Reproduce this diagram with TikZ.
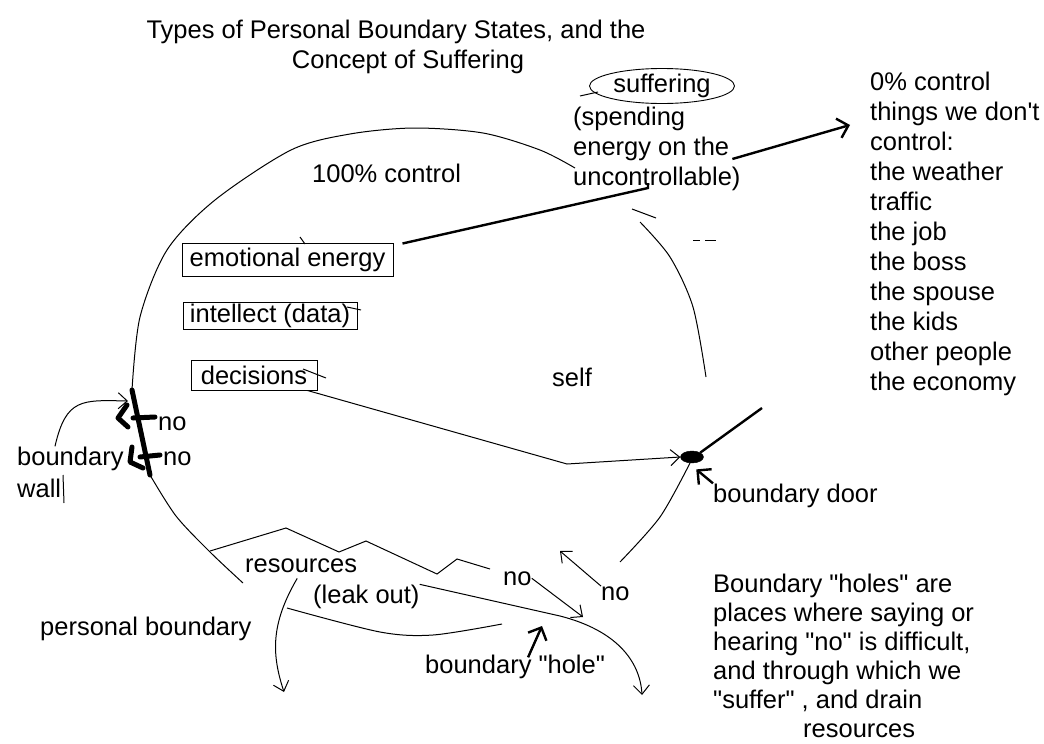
\documentclass[tikz,border=0pt]{standalone}
\usepackage{fontspec}
\newfontfamily\lbfont{Liberation Sans}
\usepackage{tikz}
\usetikzlibrary{shapes,arrows.meta,positioning,calc,backgrounds}
\tikzstyle{lbl}=[
  font=\lbfont\fontsize{25.5}{30}\selectfont, inner sep=0pt, anchor=base west
]
\tikzstyle{box}=[
  draw, line width=1, inner sep=0pt, font=\lbfont\fontsize{25.5}{30}\selectfont
]
\tikzstyle{oval}=[
  draw, ellipse, line width=0.9, inner sep=0pt, minimum width=145, minimum height=35,
  font=\lbfont\fontsize{25.5}{30}\selectfont
]
\tikzstyle{knob}=[
  draw, ellipse, fill=black, inner sep=0pt, minimum width=23, minimum height=12
]
\tikzstyle{rim}=[
  line width=1
]
\tikzstyle{heavy}=[
  line width=2.4
]
\tikzstyle{wallpen}=[
  line width=5, line cap=round, line join=round
]
\tikzset{
  tip/.style={rim, -{Straight Barb[length=9pt,width=16pt]}},
  bigtip/.style={heavy, -{Straight Barb[length=10pt,width=20pt]}},
}

\begin{document}
\begin{tikzpicture}[x=1pt,y=-1pt]
  \useasboundingbox (0,0) rectangle (1044,744);
  % titles
  \node (title) at (396,38) [lbl, anchor=base] {Types of Personal Boundary States, and the};
  \node (subtitle) at (408,68) [lbl, anchor=base] {Concept of Suffering};

  % inside the self
  \node (ctrl) at (312,182) [lbl] {100\% control};
  \node (self) at (552,386) [lbl] {self};
  \node (emo) at (287.5,259.5) [box, minimum width=211, minimum height=33] {emotional energy};
  \node (intel) at (270,315.5) [box, minimum width=174, minimum height=27] {intellect (data)};
  \node (dec) at (254,375) [box, minimum width=126, minimum height=30] {decisions};

  % suffering
  \node (suff) at (662,86) [oval] {suffering};
  \node (spend1) at (573,125) [lbl] {(spending};
  \node (spend2) at (573,155) [lbl] {energy on the};
  \node (spend3) at (573,185) [lbl] {uncontrollable)};

  % 0% control list
  \foreach \t [count=\i] in {0\% control, things we don't, control:, the weather, traffic,
      the job, the boss, the spouse, the kids, other people, the economy}
    \node (zero\i) at (870,60+30*\i) [lbl] {\t};

  % door
  \node (door) at (692,457) [knob] {};
  \node (doorlbl) at (713,502) [lbl] {boundary door};

  % wall
  \node (nowall1) at (158,430) [lbl] {no};
  \node (nowall2) at (163,465) [lbl] {no};
  \node (wall1) at (17,465) [lbl] {boundary};
  \node (wall2) at (17,497) [lbl] {wall};

  % bottom
  \node (res) at (245,572) [lbl] {resources};
  \node (leak) at (313,603) [lbl] {(leak out)};
  \node (nohole) at (503,585) [lbl] {no};
  \node (noback) at (601,600) [lbl] {no};
  \node (pers) at (40,635) [lbl] {personal boundary};
  \node (hole) at (425,673) [lbl] {boundary "hole"};

  \foreach \t [count=\i] in {Boundary "holes" are, places where saying or,
      {hearing "no" is difficult,}, and through which we, {"suffer" , and drain}}
    \node (holes\i) at (713,563+29*\i) [lbl] {\t};
  \node (holes6) at (803,737) [lbl] {resources};

  % free ends
  \coordinate (listtip) at (850,125);
  \coordinate (emoend) at (648,188);
  \coordinate (doorend) at (762,408);
  \coordinate (holetip) at (542,626);
  \coordinate (walltip) at (128,401);
  \coordinate (leakpt) at (583,617);
  \coordinate (backtip) at (560,551);

  \begin{scope}[on background layer]
    % the personal boundary
    \draw [rim] plot [smooth] coordinates {(132,390) (140,317) (167,250) (215,200) (291,150)
      (350,134) (414,128) (483,133) (540,150) (575,168)};
    \draw [rim] plot [smooth] coordinates {(640,222) (670,257) (693,307) (706,377)};
    \draw [rim] plot [smooth] coordinates {(690,463) (660,517) (620,562)};
    \draw [rim] plot [smooth] coordinates {(287,608) (380,632) (433,635) (502,624)};
    \draw [rim] plot [smooth] coordinates {(150,475) (176,516) (210,552) (243,583)};
    \draw [rim] (210,551) -- (286,528) -- (339,552) -- (366,541) -- (437,574) -- (457,559) -- (490,569);

    % boundary wall
    \draw [wallpen] (132,390) -- (150,475);
    \draw [wallpen] (127,405) -- (118,418) -- (128,427);
    \draw [wallpen] (133,418) -- (155,417);
    \draw [wallpen] (132,447) -- (130,462) -- (143,468);
    \draw [wallpen] (140,457) -- (160,455);
    \draw [tip] ($(wall1.north west)+(38,0)$) .. controls (66,398) and (82,400) .. (walltip);
    \draw [rim] (63,475) -- (64,503);

    % suffering
    \draw [heavy] ($(emo.north east)+(9,1)$) -- (emoend) -- ++(0,-5);
    \draw [bigtip] ($(spend2.base east)+(3,4)$) -- (listtip);
    \draw [rim] (580,96) -- (598,92);

    % door
    \draw [tip] ($(dec.south east)+(-10,0)$) -- (567,464) -- (door.west);
    \draw [heavy] (door.north east) -- (doorend);
    \draw [bigtip] (doorlbl.north west) -- ($(door.south east)+(-4,8)$);

    % leaks
    \draw [tip] (nohole.east) -- (leakpt);
    \draw [tip] (leak.north east) -- (560,616) .. controls (615,630) and (640,660) .. (642,695);
    \draw [tip] ($(res.south)+(-4,6)$) .. controls (270,625) and (272,655) .. (284,692);
    \draw [bigtip] ($(hole.north)+(13,3)$) -- (holetip);
    \draw [tip] (noback.north west) -- (backtip);

    % stray marks
    \draw [rim] (300,237) -- (305,244);
    \draw [rim] (347,307) -- (361,310);
    \draw [rim] (303,369) -- (326,378);
    \draw [rim] (632,209) -- (656,218);
    \draw [rim] (693,240) -- (700,240);
    \draw [rim] (705,240) -- (716,240);
  \end{scope}
\end{tikzpicture}
\end{document}
